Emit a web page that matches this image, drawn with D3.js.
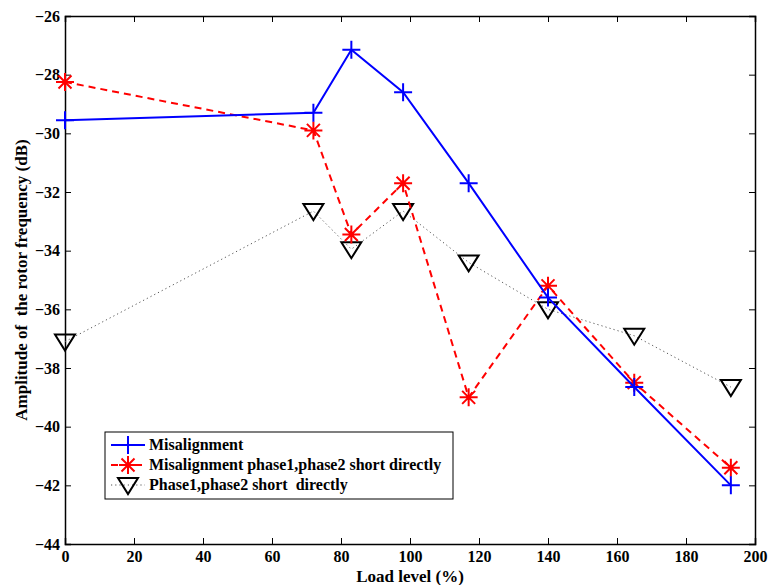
<!DOCTYPE html>
<html>
<head>
<meta charset="utf-8">
<script src="https://cdn.jsdelivr.net/npm/d3@7"></script>
<style>
  body { margin: 0; background: #fff; }
  svg text { font-family: "Liberation Serif", "DejaVu Serif", serif !important; font-weight: bold; }
</style>
</head>
<body>
<div id="chart"></div>
<script>
// load levels (%)
const loadLevels = [0, 72, 83, 98, 117, 140, 165, 193];
// amplitude (dB) for each series
const misalignment = [-29.55, -29.3, -27.15, -28.6, -31.7, -35.6, -38.65, -42.0];
const misalignShort = [-28.25, -29.9, -33.45, -31.7, -39.0, -35.2, -38.5, -41.4];
const phaseShort = [-37.1, -32.65, -33.95, -32.65, -34.4, -36.0, -36.9, -38.65];

const seriesNames = [
    'Misalignment',
    'Misalignment phase1,phase2 short directly',
    'Phase1,phase2 short  directly'
];
const xTicks = [0, 20, 40, 60, 80, 100, 120, 140, 160, 180, 200];
const yTicks = [-44, -42, -40, -38, -36, -34, -32, -30, -28, -26];

const width = 768, height = 585;
const margin = { top: 16, right: 13, bottom: 41, left: 65 };

const svg = d3.select('#chart').append('svg')
    .attr('width', width)
    .attr('height', height)
    .style('display', 'block');

const x = d3.scaleLinear().domain([0, 200]).range([margin.left, width - margin.right]);
const y = d3.scaleLinear().domain([-44, -26]).range([height - margin.bottom, margin.top]);

const fmt = d => (d < 0 ? '\u2212' + Math.abs(d) : d);

// axes: ticks pointing inward on all four sides
svg.append('g')
    .attr('transform', `translate(0,${y.range()[0]})`)
    .call(d3.axisBottom(x).tickValues(xTicks).tickSize(-6).tickPadding(7).tickFormat(fmt));
svg.append('g')
    .attr('transform', `translate(0,${y.range()[1]})`)
    .call(d3.axisTop(x).tickValues(xTicks).tickSize(-6).tickFormat(''));
svg.append('g')
    .attr('transform', `translate(${x.range()[0]},0)`)
    .call(d3.axisLeft(y).tickValues(yTicks).tickSize(-6).tickPadding(5).tickFormat(fmt));
svg.append('g')
    .attr('transform', `translate(${x.range()[1]},0)`)
    .call(d3.axisRight(y).tickValues(yTicks).tickSize(-6).tickFormat(''));

svg.selectAll('.domain').attr('stroke', '#000').attr('stroke-width', 1.5);
svg.selectAll('.tick line').attr('stroke', '#000');
svg.selectAll('.tick text')
    .style('font-size', '16px')
    .attr('fill', '#000');

// axis titles
svg.append('text')
    .attr('x', (x.range()[0] + x.range()[1]) / 2)
    .attr('y', 582)
    .attr('text-anchor', 'middle')
    .style('font-size', '17px')
    .text('Load level (%)');
svg.append('text')
    .attr('transform', `translate(27,${(y.range()[0] + y.range()[1]) / 2}) rotate(-90)`)
    .attr('text-anchor', 'middle')
    .style('font-size', '17px')
    .style('white-space', 'pre')
    .text('Amplitude of  the rotor frequency (dB)');

// marker drawers
function plusMarker(g, cx, cy, color) {
    const s = 9;
    g.append('path')
        .attr('d', `M${cx - s},${cy}H${cx + s}M${cx},${cy - s}V${cy + s}`)
        .attr('stroke', color).attr('stroke-width', 2).attr('fill', 'none');
}
function starMarker(g, cx, cy, color) {
    const s = 9, d = 6.5;
    g.append('path')
        .attr('d', `M${cx - s},${cy}H${cx + s}M${cx},${cy - s}V${cy + s}` +
            `M${cx - d},${cy - d}L${cx + d},${cy + d}M${cx - d},${cy + d}L${cx + d},${cy - d}`)
        .attr('stroke', color).attr('stroke-width', 2).attr('fill', 'none');
}
function triMarker(g, cx, cy, color) {
    const s = 10;
    g.append('path')
        .attr('d', `M${cx - s},${cy - s * 0.7}L${cx + s},${cy - s * 0.7}L${cx},${cy + s * 0.9}Z`)
        .attr('stroke', color).attr('stroke-width', 2).attr('fill', 'none');
}

const series = [
    { values: phaseShort, color: '#000', width: 1, dash: '1.2,3', marker: triMarker, lineColor: '#555' },
    { values: misalignShort, color: '#ff0000', width: 2, dash: '7,5', marker: starMarker, lineColor: '#ff0000' },
    { values: misalignment, color: '#0000ff', width: 2, dash: null, marker: plusMarker, lineColor: '#0000ff' }
];

const line = d3.line().x(d => x(d[0])).y(d => y(d[1]));

series.forEach(s => {
    const pts = loadLevels.map((l, i) => [l, s.values[i]]);
    const g = svg.append('g');
    g.append('path')
        .attr('d', line(pts))
        .attr('fill', 'none')
        .attr('stroke', s.lineColor)
        .attr('stroke-width', s.width)
        .attr('stroke-dasharray', s.dash);
    pts.forEach(p => s.marker(g, x(p[0]), y(p[1]), s.color));
});

// legend
const leg = svg.append('g').attr('transform', 'translate(105,432)');
leg.append('rect')
    .attr('width', 348).attr('height', 67)
    .attr('fill', '#fff').attr('stroke', '#000').attr('stroke-width', 1);
const legOrder = [series[2], series[1], series[0]];
legOrder.forEach((s, i) => {
    const ly = 13 + i * 20;
    leg.append('line')
        .attr('x1', 6).attr('x2', 40).attr('y1', ly).attr('y2', ly)
        .attr('stroke', s.lineColor).attr('stroke-width', s.width)
        .attr('stroke-dasharray', s.dash);
    s.marker(leg, 23, ly, s.color);
    leg.append('text')
        .attr('x', 44).attr('y', ly + 5)
        .style('font-size', '16px')
        .style('white-space', 'pre')
        .text(seriesNames[i]);
});
</script>
</body>
</html>
